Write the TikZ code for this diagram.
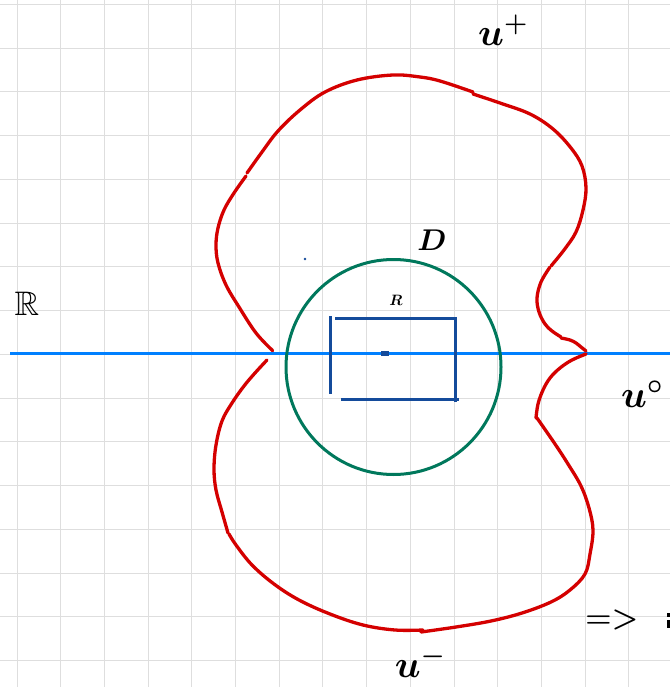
\RequirePackage{fix-cm}
\documentclass[tikz,border=0pt]{standalone}
\usepackage{amssymb}
\usepackage{bm}
\definecolor{sred}{RGB}{212,0,0}
\definecolor{sblue}{RGB}{0,128,255}
\definecolor{sgreen}{RGB}{0,120,92}
\definecolor{dblue}{RGB}{20,75,155}
\definecolor{gridc}{RGB}{222,222,222}
\begin{document}
\begin{tikzpicture}[x=1pt,y=-1pt,
  redline/.style={draw=sred,line width=3.3pt,line cap=round,line join=round},
  rect/.style={draw=dblue,line width=3pt},
  lbl/.style={inner sep=0pt,text=black},
  big/.style={font=\fontsize{38}{38}\selectfont},
  mid/.style={font=\fontsize{30}{30}\selectfont},
  small/.style={font=\fontsize{15}{15}\selectfont}]
\useasboundingbox (0,0) rectangle (670,687);
\fill[white] (0,0) rectangle (670,687);
% grid
\foreach \i in {0,...,15} {
  \draw[gridc,line width=1pt] ({17+43.7*\i},0) -- ({17+43.7*\i},687);
  \draw[gridc,line width=1pt] (0,{4.4+43.75*\i}) -- (670,{4.4+43.75*\i});
}
% real line
\draw[sblue,line width=3pt] (10,353) -- (670,353);
% disc
\draw[sgreen,line width=3pt] (393.5,367) circle (107.5);
% rectangle R
\draw[rect] (330,316) -- (330,394);
\draw[rect] (335,318) -- (455,318) -- (455,402);
\draw[rect] (341,399) -- (459,399);
\fill[dblue] (381,351) rectangle (389,356);
\fill[dblue] (305,259) circle (1.4);
% red curve strokes
\begin{scope}[tension=0.6]
\draw[redline] plot[smooth] coordinates {(272.6,350.6) (256,333) (239,307) (226,285) (218,263) (216,245) (218,228) (224,210) (234,193) (246,176)};
\draw[redline] plot[smooth] coordinates {(247,173) (262,152) (278,131) (300,110) (325,92) (357,80) (393,75) (420,77) (440,81) (473,92)};
\draw[redline] plot[smooth] coordinates {(473,94) (500,103) (530,114) (553,129) (571,148) (582,166) (586,188) (583,210) (576,232) (564,250) (551,266)};
\draw[redline] plot[smooth] coordinates {(550,267) (541,282) (537,298) (539,312) (545,324) (552,331) (561,337)};
\draw[redline] plot[smooth] coordinates {(561,338) (570,340) (576,343) (581,347) (586,351)};
\draw[redline] plot[smooth] coordinates {(586,354) (572,360) (560,368) (550,378) (543,390) (538,404) (536,418)};
\draw[redline] plot[smooth] coordinates {(537,418) (555,444) (568,464) (581,486) (589,508) (593,530) (590,554) (585,574) (570,590) (551,602) (522,613) (491,621) (456,627) (421,632)};
\draw[redline] plot[smooth] coordinates {(423,630) (395,630) (363,625) (330,614) (299,600) (274,584) (252,565) (236,545) (229,534)};
\draw[redline] plot[smooth] coordinates {(228,533) (222,512) (216,490) (214,469) (216,445) (222,421) (232,403) (244,386) (255,373) (267,360)};
\end{scope}
% labels
\node[lbl,big] (uplus) at (503,30) {$\bm{u^{+}}$};
\node[lbl,mid] (dlab) at (432,240) {$\bm{D}$};
\node[lbl,font=\fontsize{34}{34}\selectfont] (rlab) at (27,304) {$\mathbb{R}$};
\node[lbl,small] (rsmall) at (396,300) {$\bm{R}$};
\node[lbl,big] (uzero) at (642,394) {$\bm{u^{\circ}}$};
\node[lbl,big] (uminus) at (420,662) {$\bm{u^{-}}$};
\node[lbl,mid] (impl) at (612,620) {$\bm{=>}$};
\fill[black] (667,613) rectangle (670,617);
\fill[black] (667,620) rectangle (670,628);
\end{tikzpicture}
\end{document}
